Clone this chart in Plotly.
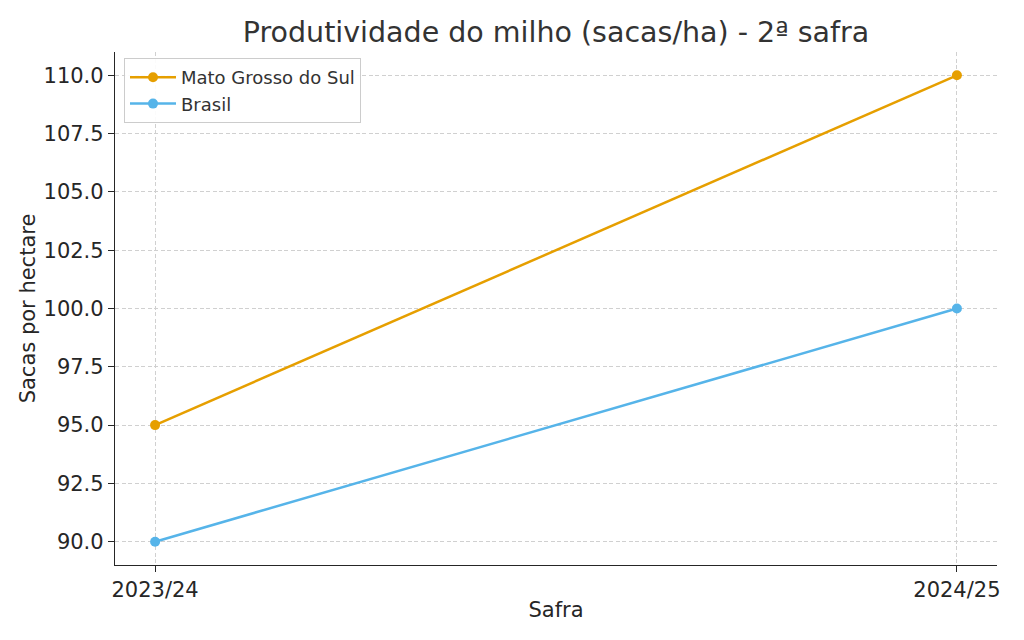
import plotly.graph_objects as go

safras = ["2023/24", "2024/25"]
ms_values = [95, 110]
br_values = [90, 100]
series_names = ["Mato Grosso do Sul", "Brasil"]
y_ticks = [90.0, 92.5, 95.0, 97.5, 100.0, 102.5, 105.0, 107.5, 110.0]

FONT = "DejaVu Sans"
W, H = 1016, 632  # page body has an 8px margin
fig = go.Figure()
fig.add_trace(go.Scatter(x=[0, 1], y=ms_values, mode="lines+markers", name=series_names[0],
                         line=dict(color="#E69F00", width=2.5), marker=dict(size=10, color="#E69F00")))
fig.add_trace(go.Scatter(x=[0, 1], y=br_values, mode="lines+markers", name=series_names[1],
                         line=dict(color="#56B4E9", width=2.5), marker=dict(size=10, color="#56B4E9")))

fig.update_layout(
    width=W, height=H,
    margin=dict(l=107, r=27, t=44, b=75, autoexpand=False),
    plot_bgcolor="white", paper_bgcolor="white",
    font=dict(family=FONT, color="#262626", size=21),
    title=dict(text="Produtividade do milho (sacas/ha) - 2ª safra", x=0.5, xanchor="center",
               xref="paper", y=1 - 24 / H, yanchor="middle",
               font=dict(size=28.5, color="#333333", family=FONT)),
    legend=dict(x=0.0102, y=0.9883, xanchor="left", yanchor="top", itemwidth=46,
                bgcolor="rgba(255,255,255,0.9)", bordercolor="#cccccc", borderwidth=1,
                font=dict(size=18, color="#333333", family=FONT)),
    showlegend=True,
)
fig.update_xaxes(
    range=[-0.05, 1.05], tickmode="array", tickvals=[0, 1], ticktext=safras,
    showline=True, linecolor="#262626", linewidth=1.3, mirror=False,
    ticks="outside", ticklen=6, tickcolor="#262626", tickwidth=1.2,
    showgrid=True, gridcolor="#d0d0d0", griddash="4px,2.5px", gridwidth=1, zeroline=False,
    title=dict(text="Safra", font=dict(size=21), standoff=0),
    tickfont=dict(size=21),
)
fig.update_yaxes(
    range=[89.0, 111.0], tickmode="array", tickvals=y_ticks,
    ticktext=[f"{v:.1f}" for v in y_ticks],
    showline=True, linecolor="#262626", linewidth=1.3, mirror=False,
    ticks="outside", ticklen=6, tickcolor="#262626", tickwidth=1.2,
    showgrid=True, gridcolor="#d0d0d0", griddash="4px,2.5px", gridwidth=1, zeroline=False,
    title=dict(text="Sacas por hectare", font=dict(size=21), standoff=2),
    tickfont=dict(size=21),
)
fig.write_html("out.html")
